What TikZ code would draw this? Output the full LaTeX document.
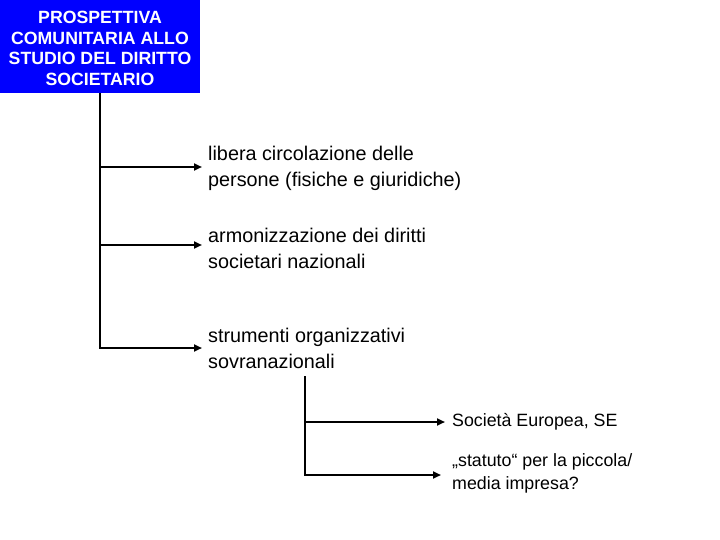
\documentclass[tikz,border=0pt]{standalone}
\usepackage{fontspec}
\setmainfont{Liberation Sans}
\usetikzlibrary{arrows.meta}
\begin{document}
\begin{tikzpicture}[x=1pt,y=1pt,
  conn/.style={line width=2pt},
  arr/.style={conn,-{Triangle[length=8pt,width=7pt]}},
  item/.style={anchor=west,inner sep=0pt,align=left,font=\fontsize{19.8}{25.5}\selectfont},
  subitem/.style={anchor=west,inner sep=0pt,align=left,font=\fontsize{17.8}{23}\selectfont}]
\useasboundingbox (0,0) rectangle (720,-540);
\node[fill=blue,minimum width=200pt,minimum height=93pt,inner sep=0pt,anchor=north west] (title) at (0,0) {};
\node[text=white,font=\bfseries\fontsize{17.7}{20.7}\selectfont,align=center,inner sep=0pt] (titletext) at (100,-48.5)
  {PROSPETTIVA\\COMUNITARIA ALLO\\STUDIO DEL DIRITTO\\SOCIETARIO};
\node[item] (a) at (208,-168.5) {libera circolazione delle\\persone (fisiche e giuridiche)};
\node[item] (b) at (208,-248.5) {armonizzazione dei diritti\\societari nazionali};
\node[item] (c) at (208,-348.5) {strumenti organizzativi\\sovranazionali};
\node[subitem] (d) at (452,-422) {Società Europea, SE};
\node[subitem] (e) at (452,-473.5) {„statuto“ per la piccola/\\media impresa?};
\coordinate (j1) at (100,-167);
\coordinate (j2) at (100,-245);
\coordinate (j3) at (100,-348);
\coordinate (s0) at (305,-376);
\coordinate (k1) at (305,-422);
\coordinate (k2) at (305,-475);
\draw[conn] (title.south -| j1) -- ([yshift=-1pt]j3);
\draw[arr] (j1) -- (202,-167);
\draw[arr] (j2) -- (202,-245);
\draw[arr] (j3) -- (202,-348);
\draw[conn] (s0) -- ([yshift=-1pt]k2);
\draw[arr] (k1) -- (445,-422);
\draw[arr] (k2) -- (441,-475);
\end{tikzpicture}
\end{document}
